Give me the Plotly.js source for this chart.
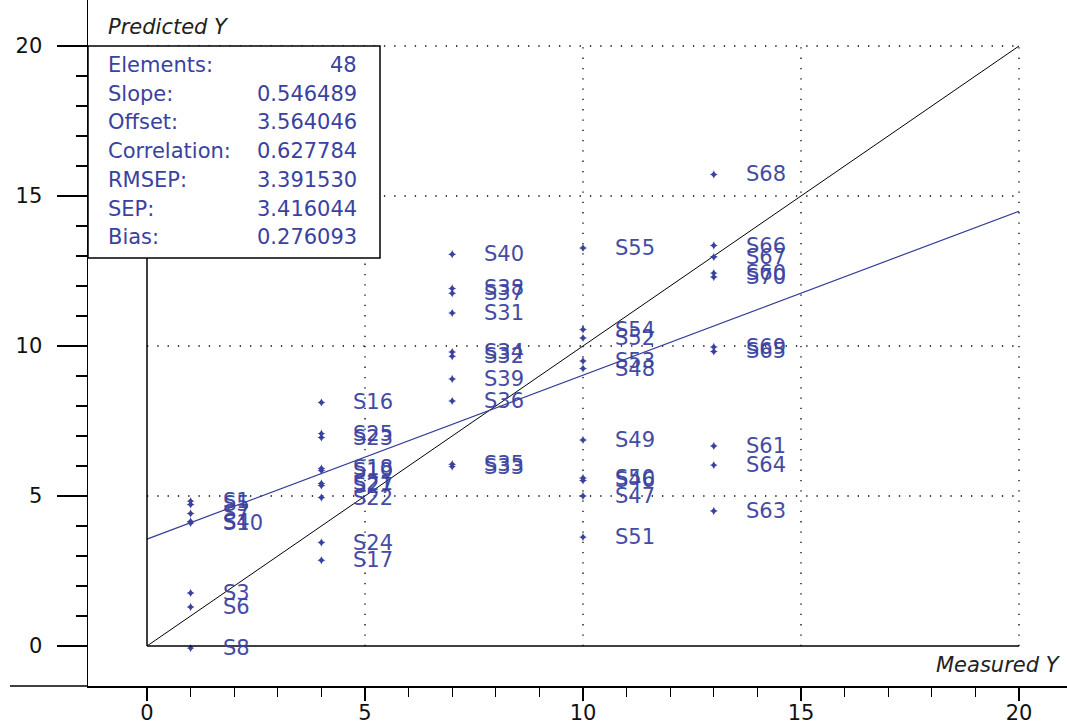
<!DOCTYPE html>
<html>
<head>
<meta charset="utf-8">
<script src="https://cdn.plot.ly/plotly-3.0.1.min.js"></script>
<style>html,body{margin:0;padding:0;background:#fff;}#chart{width:1067px;height:724px;}</style>
</head>
<body>
<div id="chart"></div>
<script>
// ---- data ----
const sampleNames = ['S1','S5','S7','S4','S10','S3','S6','S8',
  'S16','S25','S23','S18','S19','S21','S27','S22','S24','S17',
  'S40','S38','S37','S31','S34','S32','S39','S36','S35','S33',
  'S55','S54','S52','S53','S48','S49','S50','S46','S47','S51',
  'S68','S66','S67','S60','S70','S69','S65','S61','S64','S63'];
const measuredY = [1,1,1,1,1,1,1,1,
  4,4,4,4,4,4,4,4,4,4,
  7,7,7,7,7,7,7,7,7,7,
  10,10,10,10,10,10,10,10,10,10,
  13,13,13,13,13,13,13,13,13,13];
const predictedY = [4.83,4.72,4.42,4.15,4.10,1.77,1.30,-0.07,
  8.12,7.08,6.95,5.92,5.85,5.42,5.35,4.95,3.45,2.86,
  13.06,11.92,11.76,11.10,9.80,9.66,8.90,8.17,6.06,5.98,
  13.27,10.55,10.27,9.50,9.25,6.87,5.60,5.52,5.00,3.63,
  15.72,13.35,12.97,12.43,12.30,9.97,9.82,6.67,6.03,4.50];
const statNames = ['Elements:','Slope:','Offset:','Correlation:','RMSEP:','SEP:','Bias:'];
const statValues = ['48','0.546489','3.564046','0.627784','3.391530','3.416044','0.276093'];
const slope = 0.546489, offset = 3.564046;
const lineX = [0, 20];
const gridVals = [5, 10, 15, 20];
const majorTicks = [0, 5, 10, 15, 20];
const minorTicks = [1,2,3,4,6,7,8,9,11,12,13,14,16,17,18,19];
const xTitle = 'Measured Y', yTitle = 'Predicted Y';

// ---- styles ----
const BLUE = '#3a42a0';
const FAM = 'DejaVu Sans, Liberation Sans, Arial, sans-serif';
const LABEL_FONT = {family: FAM, size: 21, color: BLUE};
const W = 1067, H = 724, ML = 88, MB = 38;
const pxPerX = 43.6, pxPerY = 30, x0px = 147, y0px = 646;
const xr = [(ML - x0px) / pxPerX, (W - x0px) / pxPerX];
const yr = [(y0px - (H - MB)) / pxPerY, y0px / pxPerY];

const traces = [
  {x: lineX, y: lineX, mode: 'lines', line: {color: '#000', width: 1}, hoverinfo: 'skip'},
  {x: lineX, y: lineX.map(v => slope * v + offset), mode: 'lines', line: {color: '#333d99', width: 1.2}, hoverinfo: 'skip'},
  {x: measuredY, y: predictedY, mode: 'markers', marker: {symbol: 'star-diamond', size: 6, color: BLUE}, text: sampleNames, hoverinfo: 'text'}
];

const shapes = [];
gridVals.forEach(v => {
  shapes.push({type: 'line', xref: 'x', yref: 'y', x0: 0, x1: 20, y0: v, y1: v, line: {color: '#000', width: 1.3, dash: '1.3px,9px'}, layer: 'below'});
  shapes.push({type: 'line', xref: 'x', yref: 'y', x0: v, x1: v, y0: 0, y1: 20, line: {color: '#000', width: 1.3, dash: '1.3px,9px'}, layer: 'below'});
});
shapes.push({type: 'line', xref: 'x', yref: 'y', x0: 0, x1: 20, y0: 0, y1: 0, line: {color: '#000', width: 1.5}});
shapes.push({type: 'line', xref: 'x', yref: 'y', x0: 0, x1: 0, y0: 0, y1: 20, line: {color: '#000', width: 1.5}});
shapes.push({type: 'line', xref: 'paper', yref: 'paper', x0: (10 - ML) / (W - ML), x1: 0, y0: 0, y1: 0, line: {color: '#000', width: 1.5}});
const boxRight = (380 - x0px) / pxPerX, boxBottom = (y0px - 258) / pxPerY;
shapes.push({type: 'rect', xref: 'x', yref: 'y', x0: xr[0], x1: boxRight, y0: boxBottom, y1: 20, fillcolor: '#fff', line: {color: '#000', width: 1.5}, layer: 'above'});

const annotations = sampleNames.map((n, i) => ({
  x: measuredY[i], y: predictedY[i], text: n, showarrow: false, xanchor: 'left', yanchor: 'middle',
  xshift: 30, font: LABEL_FONT, opacity: 0.95
}));
const rowTop = 65, rowStep = 28.7;
statNames.forEach((n, i) => {
  const py = rowTop + i * rowStep;
  annotations.push({xref: 'paper', yref: 'paper', x: (106 - ML) / (W - ML), y: 1 - py / (H - MB), text: n, showarrow: false,
    xanchor: 'left', yanchor: 'middle', font: {family: FAM, size: 21, color: BLUE}});
  annotations.push({xref: 'paper', yref: 'paper', x: (359 - ML) / (W - ML), y: 1 - py / (H - MB), text: statValues[i], showarrow: false,
    xanchor: 'right', yanchor: 'middle', font: {family: FAM, size: 21, color: BLUE}});
});
annotations.push({xref: 'paper', yref: 'paper', x: (106 - ML) / (W - ML), y: 1 - 27 / (H - MB), text: '<i>' + yTitle + '</i>', showarrow: false,
  xanchor: 'left', yanchor: 'middle', font: {family: FAM, size: 21, color: '#222'}});
annotations.push({xref: 'paper', yref: 'paper', x: 1 - 4 / (W - ML), y: 1 - 665 / (H - MB), text: '<i>' + xTitle + '</i>', showarrow: false,
  xanchor: 'right', yanchor: 'middle', font: {family: FAM, size: 21, color: '#222'}});

const tickFont = {family: FAM, size: 21, color: '#111'};
const layout = {
  width: W, height: H, showlegend: false,
  margin: {l: ML, r: 0, t: 0, b: MB, pad: 0},
  paper_bgcolor: '#fff', plot_bgcolor: '#fff',
  xaxis: {range: xr, showgrid: false, zeroline: false, showline: true, linecolor: '#000', linewidth: 1.5,
    tickmode: 'array', tickvals: majorTicks, ticktext: majorTicks.map(String), ticks: 'outside', ticklen: 13, tickwidth: 1.2, tickcolor: '#000',
    minor: {tickmode: 'array', tickvals: minorTicks, ticks: 'outside', ticklen: 9, tickwidth: 1.2, tickcolor: '#000', showgrid: false},
    ticklabelstandoff: -6, tickfont: tickFont, fixedrange: true},
  yaxis: {range: yr, showgrid: false, zeroline: false, showline: true, linecolor: '#000', linewidth: 1.5,
    tickmode: 'array', tickvals: majorTicks, ticktext: majorTicks.map(String), ticks: 'outside', ticklen: 30, tickwidth: 1.2, tickcolor: '#000',
    minor: {tickmode: 'array', tickvals: [0,1,2,3,4,5,6,7,8,9,10,11,12,13,14,15,16,17,18,19,20].filter(v => v % 5 !== 0), ticks: 'outside', ticklen: 11, tickwidth: 1.2, tickcolor: '#000', showgrid: false},
    ticklabelstandoff: 10, tickfont: tickFont, fixedrange: true},
  shapes: shapes,
  annotations: annotations
};
Plotly.newPlot('chart', traces, layout, {displayModeBar: false, staticPlot: true});
</script>
</body>
</html>
